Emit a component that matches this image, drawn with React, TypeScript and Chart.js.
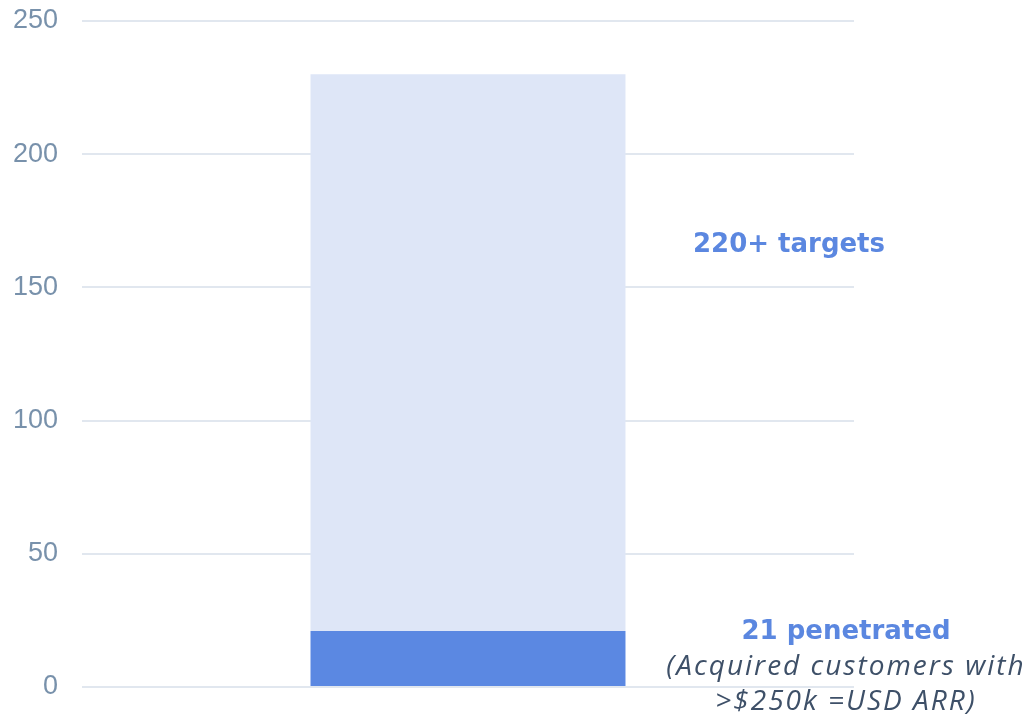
import React, { useEffect, useRef } from "react";
import { Chart, registerables } from "chart.js";

Chart.register(...registerables);

const categories = ["Targets"];
const penetrated = [21];
const remainingTargets = [209];
const yTicks = [0, 50, 100, 150, 200, 250];
const targetLabel = "220+ targets";
const penetratedLabel = "21 penetrated";
const noteLines = ["(Acquired customers with", ">$250k =USD ARR)"];

const textPlugin = {
  id: "sideText",
  afterDraw(chart: any) {
    const ctx = chart.ctx;
    const y = chart.scales.y;
    ctx.save();
    ctx.textAlign = "center";
    ctx.textBaseline = "middle";
    ctx.fillStyle = "#5b87e0";
    ctx.font = "bold 26px 'DejaVu Sans'";
    ctx.fillText(targetLabel, 789, y.getPixelForValue(165.7));
    ctx.fillText(penetratedLabel, 846, y.getPixelForValue(20.4));
    ctx.fillStyle = "#3e5068";
    ctx.font = "italic 28px 'Open Sans'";
    (ctx as any).letterSpacing = "2px";
    ctx.fillText(noteLines[0], 846, y.getPixelForValue(7.5));
    ctx.fillText(noteLines[1], 846, y.getPixelForValue(-5.8));
    ctx.restore();
  },
};

export default function App() {
  const ref = useRef<HTMLCanvasElement>(null);
  useEffect(() => {
    if (!ref.current) return;
    const chart = new Chart(ref.current, {
      type: "bar",
      data: {
        labels: categories,
        datasets: [
          {
            label: "Penetrated",
            data: penetrated,
            backgroundColor: "#5b88e2",
            borderWidth: 0,
            barPercentage: 0.408,
            categoryPercentage: 1,
          },
          {
            label: "Targets",
            data: remainingTargets,
            backgroundColor: "#dee6f7",
            borderWidth: 0,
            barPercentage: 0.408,
            categoryPercentage: 1,
          },
        ],
      },
      options: {
        animation: false,
        responsive: false,
        layout: { padding: { top: 21, right: 181, bottom: 34, left: 0 } },
        plugins: { legend: { display: false }, tooltip: { enabled: false } },
        scales: {
          x: { stacked: true, display: false, offset: true },
          y: {
            stacked: true,
            min: 0,
            max: 250,
            afterBuildTicks: (s: any) => {
              s.ticks = yTicks.map((v) => ({ value: v }));
            },
            afterFit: (s: any) => {
              s.width = 82;
              s.paddingTop = 0;
              s.paddingBottom = 0;
            },
            border: { display: false },
            grid: { color: "#e1e7ef", lineWidth: 2, drawTicks: false },
            ticks: {
              padding: 24,
              color: "#7891ab",
              font: { family: "Liberation Sans", size: 27 },
            },
          },
        },
      },
      plugins: [textPlugin],
    });
    return () => chart.destroy();
  }, []);
  return (
    <div style={{ position: "fixed", left: 0, top: 0, width: 1035, height: 721, background: "#fff" }}>
      <canvas ref={ref} width={1035} height={721} style={{ width: 1035, height: 721 }} />
    </div>
  );
}
